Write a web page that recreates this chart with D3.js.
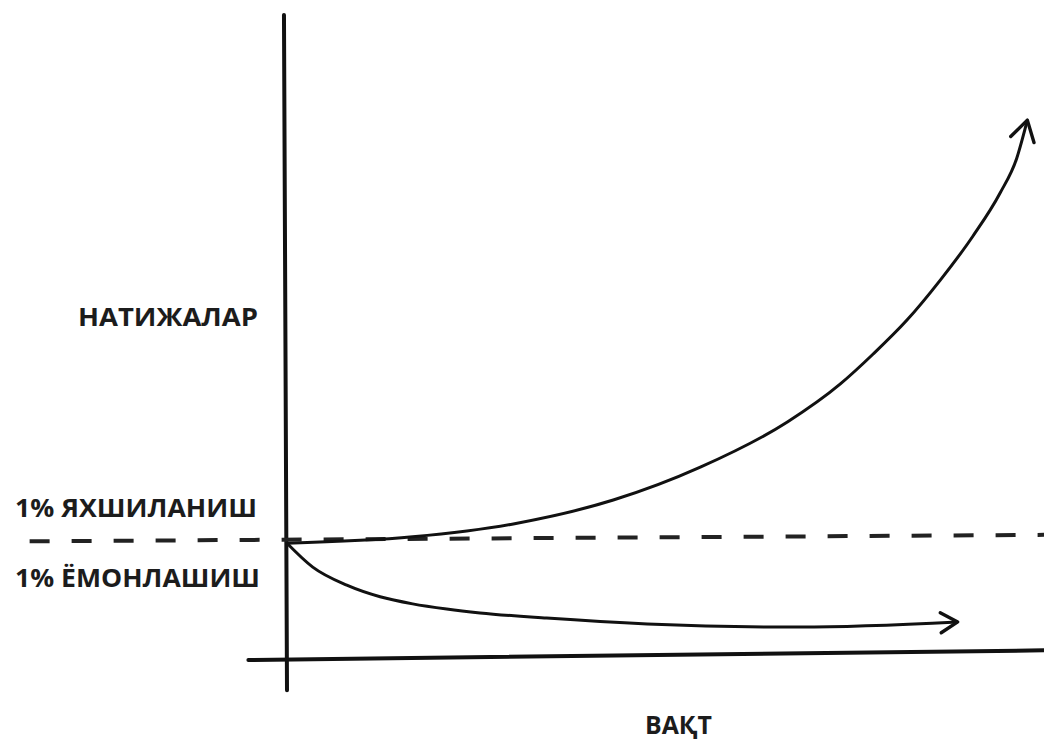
<!DOCTYPE html>
<html>
<head>
<meta charset="utf-8">
<script src="https://cdn.jsdelivr.net/npm/d3@7"></script>
<style>
	body { margin: 0; background: #fff; }
	text { font-family: "Open Sans", "Noto Sans", sans-serif; font-weight: 700; fill: #1c1c1c; }
</style>
</head>
<body>
<div id="figure"></div>
<script>
var w = 1044;
var h = 740;

// time (0..100) and result (0..100)
var improveTime = [0, 16.6, 29.9, 43.1, 54.6, 66.1, 73.1, 77.4, 81.9, 86.3, 90.6, 94.2, 96.4, 97.8];
var improveValue = [18.1, 19.1, 21.1, 24.8, 29.9, 36.9, 42.8, 47.4, 52.7, 58.9, 65.7, 72.4, 77.8, 83.7];
var declineTime = [0, 3.4, 7.9, 12.3, 16.6, 21.1, 25.5, 34.3, 47.6, 67.8, 88.6];
var declineValue = [18.1, 14.4, 11.6, 9.8, 8.7, 7.9, 7.3, 6.5, 5.6, 5.1, 5.9];
var baselineTime = [-34, 100];
var baselineValue = [18.4, 19.4];

var yLabel = 'НАТИЖАЛАР';
var xLabel = 'ВАҚТ';
var improveLabel = '1% ЯХШИЛАНИШ';
var declineLabel = '1% ЁМОНЛАШИШ';

var xScale = d3.scaleLinear()
	.domain([0, 100])
	.range([287, 1044]);

var yScale = d3.scaleLinear()
	.domain([0, 100])
	.range([660, 15]);

var svg = d3.select('#figure')
	.append('svg')
	.attr('width', w)
	.attr('height', h);

var defs = svg.append('defs');

function addArrow(id, path){
	defs.append('marker')
		.attr('id', id)
		.attr('markerUnits', 'userSpaceOnUse')
		.attr('viewBox', '-25 -15 30 30')
		.attr('markerWidth', 30)
		.attr('markerHeight', 30)
		.attr('refX', 0)
		.attr('refY', 0)
		.attr('orient', 'auto')
		.append('path')
		.attr('d', path)
		.attr('fill', 'none')
		.attr('stroke', '#111')
		.attr('stroke-width', 3.4)
		.attr('stroke-linecap', 'round')
		.attr('stroke-linejoin', 'round');
}
addArrow('arrowUp', 'M-20,-12L0,0L-20,12');
addArrow('arrowRight', 'M-17,-10L0,0L-17,10');

var line = d3.line()
	.x(function(d){ return xScale(d[0]); })
	.y(function(d){ return yScale(d[1]); })
	.curve(d3.curveMonotoneX);

var straight = d3.line()
	.x(function(d){ return xScale(d[0]); })
	.y(function(d){ return yScale(d[1]); });

//Axes (hand drawn, slightly tilted)
svg.append('path')
	.attr('d', straight([[-5.1, 0], [100, 1.5]]))
	.attr('stroke', '#111')
	.attr('stroke-width', 4)
	.attr('stroke-linecap', 'round')
	.attr('fill', 'none');

svg.append('path')
	.attr('d', straight([[0, -4.7], [-0.4, 100]]))
	.attr('stroke', '#111')
	.attr('stroke-width', 4)
	.attr('stroke-linecap', 'round')
	.attr('fill', 'none');

//Baseline
svg.append('path')
	.attr('d', straight(d3.zip(baselineTime, baselineValue)))
	.attr('stroke', '#222')
	.attr('stroke-width', 4)
	.attr('stroke-dasharray', '20,22')
	.attr('fill', 'none');

//Curves
svg.append('path')
	.attr('d', line(d3.zip(improveTime, improveValue)))
	.attr('stroke', '#111')
	.attr('stroke-width', 3)
	.attr('fill', 'none')
	.attr('marker-end', 'url(#arrowUp)');

svg.append('path')
	.attr('d', line(d3.zip(declineTime, declineValue)))
	.attr('stroke', '#111')
	.attr('stroke-width', 3)
	.attr('fill', 'none')
	.attr('marker-end', 'url(#arrowRight)');

//Labels
svg.append('text')
	.attr('x', 78)
	.attr('y', 326)
	.attr('font-size', 25)
	.attr('textLength', 180)
	.attr('lengthAdjust', 'spacingAndGlyphs')
	.text(yLabel);

svg.append('text')
	.attr('x', 15)
	.attr('y', 517)
	.attr('font-size', 25)
	.attr('textLength', 242)
	.attr('lengthAdjust', 'spacingAndGlyphs')
	.text(improveLabel);

svg.append('text')
	.attr('x', 15)
	.attr('y', 587)
	.attr('font-size', 25)
	.attr('textLength', 245)
	.attr('lengthAdjust', 'spacingAndGlyphs')
	.text(declineLabel);

svg.append('text')
	.attr('x', 645)
	.attr('y', 734)
	.attr('font-size', 25)
	.attr('textLength', 67)
	.attr('lengthAdjust', 'spacingAndGlyphs')
	.text(xLabel);
</script>
</body>
</html>
